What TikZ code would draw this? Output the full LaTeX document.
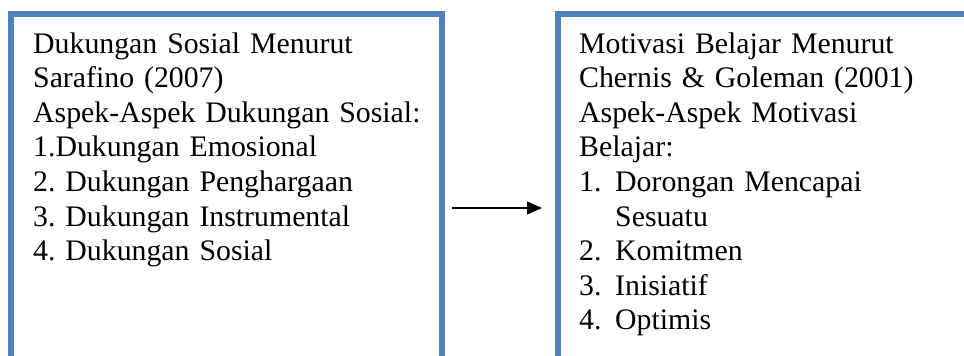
\documentclass[tikz,border=0pt]{standalone}
\usepackage{fontspec}
\setmainfont{Liberation Serif}
\frenchspacing
\usetikzlibrary{arrows.meta}
\definecolor{boxblue}{HTML}{4F81BD}
\tikzset{
  boxframe/.style={draw=boxblue, line width=6pt},
  boxtext/.style={anchor=base west, inner sep=0pt, text width=400pt, align=left,
    font={\fontsize{29.8pt}{34.6pt}\selectfont\frenchspacing}},
  link/.style={line width=1.3pt, -{Triangle[length=15pt,width=13pt]}}
}
\begin{document}
\begin{tikzpicture}[x=1pt,y=-1pt]
\useasboundingbox (0,0) rectangle (964,356);
\clip (0,0) rectangle (964,356);
\fill[white] (0,0) rectangle (964,356);
\draw[boxframe] (10.5,13.5) rectangle (442,380);
\draw[boxframe] (558,14) rectangle (990,380);
\node[boxtext] (left) at (33,53) {Dukungan Sosial Menurut\\
Sarafino (2007)\\
Aspek-Aspek Dukungan Sosial:\\
1.Dukungan Emosional\\
2. Dukungan Penghargaan\\
3. Dukungan Instrumental\\
4. Dukungan Sosial};
\node[boxtext] (right) at (579,53) {Motivasi Belajar Menurut\\
Chernis \& Goleman (2001)\\
Aspek-Aspek Motivasi\\
Belajar:\\
\makebox[36pt][l]{1.}Dorongan Mencapai\\
\hspace*{36pt}Sesuatu\\
\makebox[36pt][l]{2.}Komitmen\\
\makebox[36pt][l]{3.}Inisiatif\\
\makebox[36pt][l]{4.}Optimis};
\coordinate (a1) at (452,208);
\coordinate (a2) at (542,208);
\draw[link] (a1) -- (a2);
\end{tikzpicture}
\end{document}
